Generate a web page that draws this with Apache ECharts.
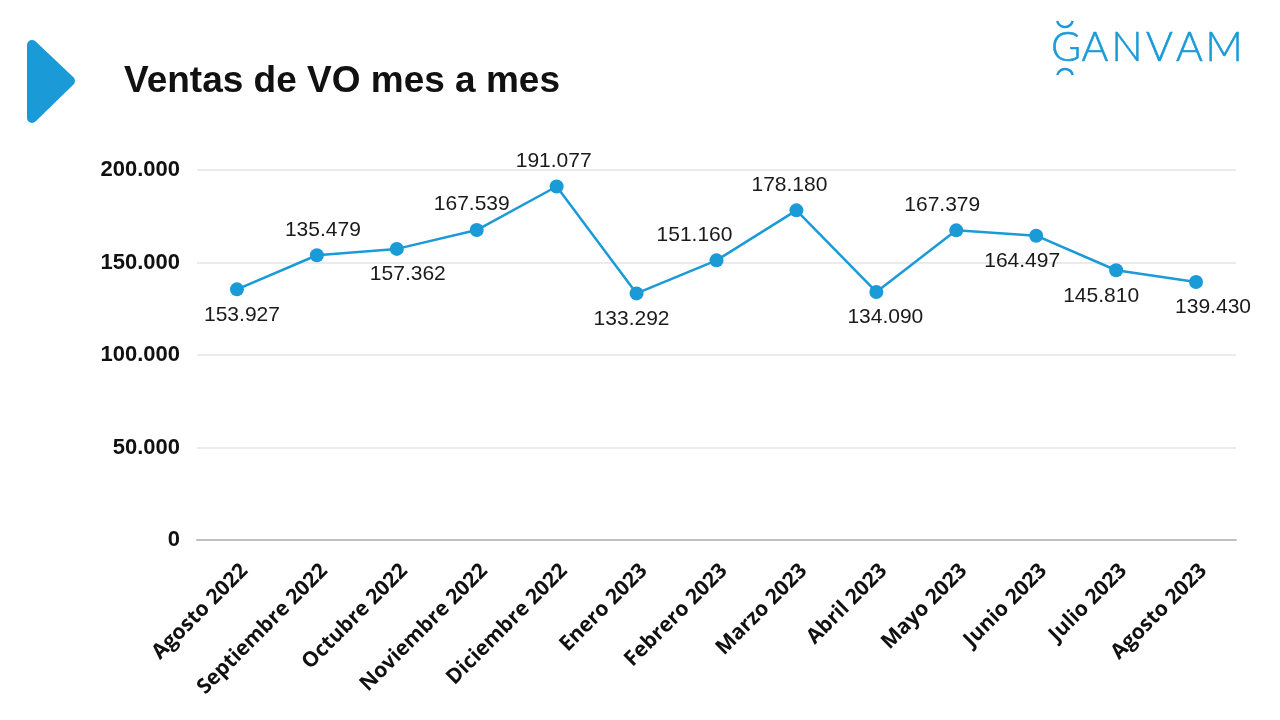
<!DOCTYPE html>
<html><head><meta charset="utf-8">
<script src="https://cdn.jsdelivr.net/npm/echarts@6/dist/echarts.min.js"></script>
<style>html,body{margin:0;padding:0;background:#fff}#c{width:1280px;height:720px}</style>
</head><body><div id="c"></div>
<script>
var categories = ['Agosto 2022','Septiembre 2022','Octubre 2022','Noviembre 2022','Diciembre 2022','Enero 2023','Febrero 2023','Marzo 2023','Abril 2023','Mayo 2023','Junio 2023','Julio 2023','Agosto 2023'];
var values = [135479, 153927, 157362, 167539, 191077, 133292, 151160, 178180, 134090, 167379, 164497, 145810, 139430];
var labelTexts = ['153.927','135.479','157.362','167.539','191.077','133.292','151.160','178.180','134.090','167.379','164.497','145.810','139.430'];
var labelPos = ['bottom','top','bottom','top','top','bottom','top','top','bottom','top','bottom','bottom','bottom'];
var labelOffsetX = [5,6,11,-5,-3,-5,-22,-7,9,-14,-14,-15,17];
var titleText = 'Ventas de VO mes a mes';
var logoLetters = ['G','A','N','V','A','M'];

function fmt(v){ return String(v).replace(/\B(?=(\d{3})+(?!\d))/g,'.'); }

var blue = '#1b9ad8';
var chart = echarts.init(document.getElementById('c'));
var seriesData = values.map(function(v,i){
  return {value:v, label:{position:labelPos[i], offset:[labelOffsetX[i],0], formatter:labelTexts[i]}};
});
var graphics = [
  {type:'polygon', shape:{points:[[32,45],[70,81],[32,118]]}, style:{fill:blue, stroke:blue, lineWidth:10, lineJoin:'round'}},
  {type:'text', style:{x:124, y:63, text:titleText, font:'bold 37px "Liberation Sans", Arial, sans-serif', fill:'#111', verticalAlign:'top'}}
];
var logoCx = [1066,1095,1127,1159.5,1189.5,1224];
logoLetters.forEach(function(ch,i){
  graphics.push({type:'text', style:{x:logoCx[i], y:27, text:ch, align:'center', verticalAlign:'top', font:'300 41px Lato, "Open Sans", sans-serif', fill:blue, stroke:blue, lineWidth:0.6}});
});
graphics.push({type:'arc', shape:{cx:1065, cy:19, r:8, startAngle:0.25, endAngle:Math.PI-0.25}, style:{stroke:blue, lineWidth:2.5, fill:null}});
graphics.push({type:'arc', shape:{cx:1065, cy:77, r:8, startAngle:Math.PI+0.25, endAngle:2*Math.PI-0.25}, style:{stroke:blue, lineWidth:2.5, fill:null}});

chart.setOption({
  animation:false,
  graphic:graphics,
  grid:{left:197, right:44, top:170, bottom:180, containLabel:false},
  xAxis:{type:'category', data:categories, boundaryGap:true,
    axisLine:{lineStyle:{color:'#c0c0c0', width:2}}, axisTick:{show:false},
    axisLabel:{rotate:45, interval:0, margin:20, verticalAlign:'top', color:'#111', fontFamily:'"Open Sans", sans-serif', fontWeight:'bold', fontSize:21}},
  yAxis:{type:'value', min:0, max:200000, interval:50000,
    axisLine:{show:false}, axisTick:{show:false},
    splitLine:{lineStyle:{color:'#e4e4e4', width:1.5}},
    axisLabel:{margin:17, color:'#111', fontFamily:'"Liberation Sans", Arial, sans-serif', fontWeight:'bold', fontSize:22,
      formatter:function(v){ return fmt(v); }}},
  series:[{type:'line', data:seriesData, symbol:'circle', symbolSize:14,
    lineStyle:{color:blue, width:2.5}, itemStyle:{color:blue},
    label:{show:true, distance:8, color:'#1a1a1a', fontFamily:'"Liberation Sans", Arial, sans-serif', fontSize:21}}]
});
</script></body></html>
